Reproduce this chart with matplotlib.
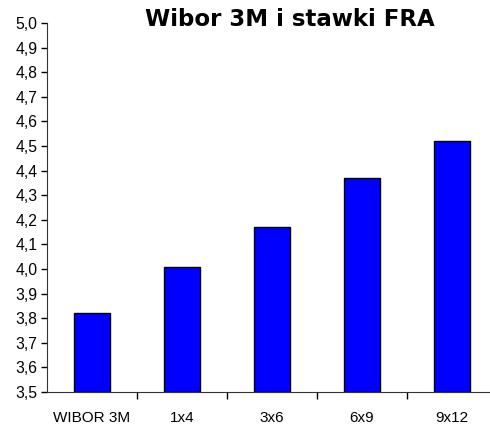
import matplotlib.pyplot as plt
import numpy as np

categories = ["WIBOR 3M", "1x4", "3x6", "6x9", "9x12"]
values = [3.82, 4.01, 4.17, 4.37, 4.52]
yticks = [3.5, 3.6, 3.7, 3.8, 3.9, 4.0, 4.1, 4.2, 4.3, 4.4, 4.5, 4.6, 4.7, 4.8, 4.9, 5.0]

plt.rcParams['font.family'] = ['Liberation Sans', 'DejaVu Sans']

fig = plt.figure(figsize=(4.9, 4.3), dpi=100)
ax = fig.add_axes([47/490, 38/430, 450/490, 369/430])

x = np.arange(len(categories))
# gray shadow on the right of each bar
ax.bar(x + 0.012, np.array(values) - 3.5, bottom=3.5, width=0.4, color='#a0a0a0', zorder=1)
ax.bar(x, np.array(values) - 3.5, bottom=3.5, width=0.4, color='#0000ff', edgecolor='black', linewidth=1, zorder=2)

ax.set_xlim(-0.5, 4.5)
ax.set_ylim(3.5, 5.0)
ax.set_yticks(yticks)
ax.set_yticklabels([f"{v:.1f}".replace('.', ',') for v in yticks], fontsize=11.3)

ax.set_xticks([0.5, 1.5, 2.5, 3.5])
ax.set_xticklabels([])
ax.set_xticks(x, minor=True)
ax.set_xticklabels(categories, minor=True, fontsize=11)
ax.tick_params(axis='x', which='major', length=5, direction='out', width=1)
ax.tick_params(axis='x', which='minor', length=0, pad=14)
ax.tick_params(axis='y', length=4, direction='out', width=1, pad=3)

for s in ['top', 'right']:
    ax.spines[s].set_visible(False)
ax.spines['left'].set_color('#333333')
ax.spines['bottom'].set_color('#333333')

fig.text(290/490, 1 - 20/430, "Wibor 3M i stawki FRA", ha='center', va='center',
         fontsize=16.5, fontweight='bold', family='DejaVu Sans')

fig.savefig("out.png", dpi=100)
